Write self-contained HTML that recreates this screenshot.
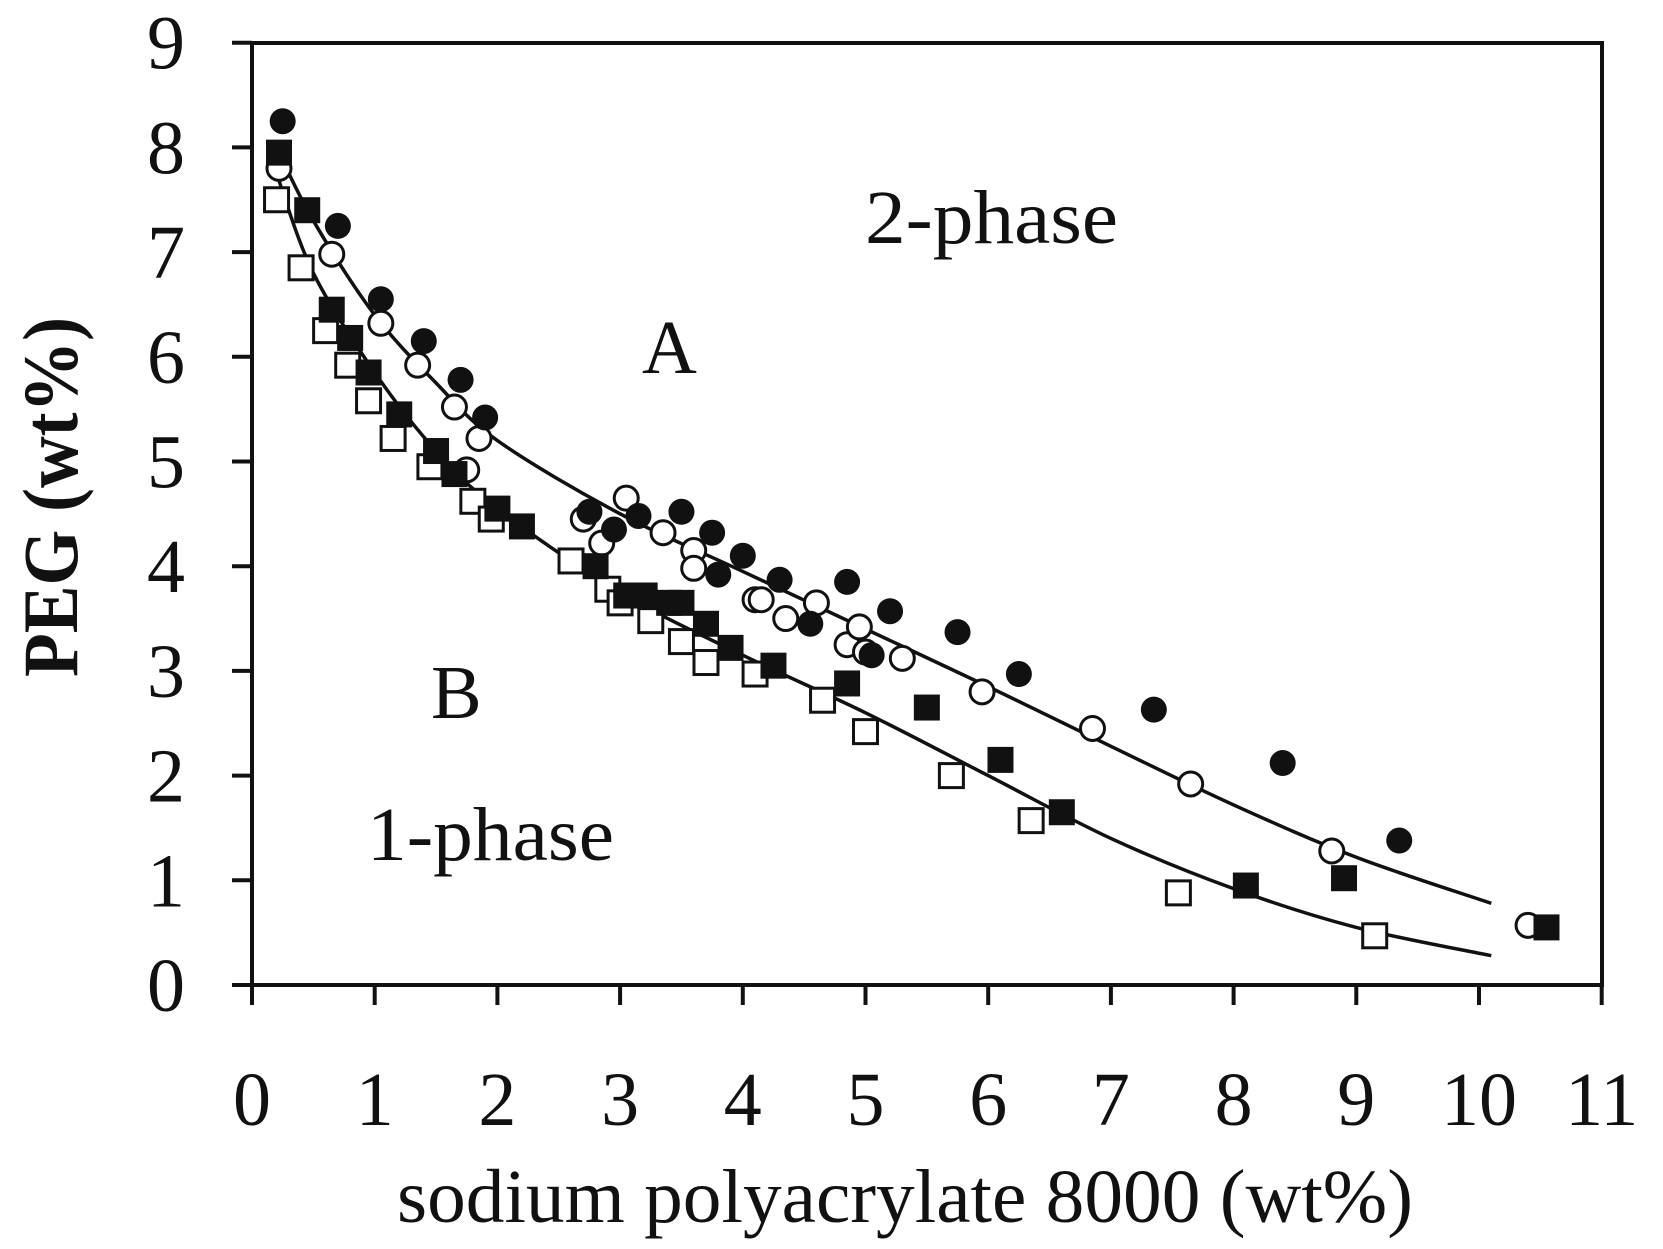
<!DOCTYPE html>
<html><head><meta charset="utf-8"><style>
html,body{margin:0;padding:0;background:#fff;}
svg{display:block;}
text{font-family:"Liberation Serif",serif;fill:#111;}
</style></head><body>
<svg width="1663" height="1249" viewBox="0 0 1663 1249" xmlns="http://www.w3.org/2000/svg">
<g id="plot"></g>
</svg>
<script>
(function(){
const NS="http://www.w3.org/2000/svg";
const g=document.getElementById("plot");
const X=x=>252+122.7*x, Y=y=>985-104.7*y;
function el(t,a,txt){const e=document.createElementNS(NS,t);for(const k in a)e.setAttribute(k,a[k]);if(txt!==undefined)e.textContent=txt;g.appendChild(e);return e;}
// frame
el("rect",{x:252,y:43,width:1350,height:942,fill:"none",stroke:"#111","stroke-width":4});
for(let i=0;i<=11;i++){el("line",{x1:X(i),y1:985,x2:X(i),y2:1005,stroke:"#111","stroke-width":4});
 el("text",{x:X(i),y:1125,"font-size":76,"text-anchor":"middle"},String(i));}
for(let j=0;j<=9;j++){el("line",{x1:232,y1:Y(j),x2:252,y2:Y(j),stroke:"#111","stroke-width":4});
 el("text",{x:166,y:Y(j)+26,"font-size":76,"text-anchor":"middle"},String(j));}
el("text",{x:397,y:1222,"font-size":76,textLength:1016,lengthAdjust:"spacingAndGlyphs"},"sodium polyacrylate 8000 (wt%)");
el("text",{x:0,y:0,"font-size":78,"font-weight":"bold",transform:"translate(77,677) rotate(-90)",textLength:360,lengthAdjust:"spacingAndGlyphs"},"PEG (wt%)");
el("text",{x:865,y:243,"font-size":76,textLength:253,lengthAdjust:"spacingAndGlyphs"},"2-phase");
el("text",{x:642,y:373,"font-size":76},"A");
el("text",{x:431,y:718,"font-size":76},"B");
el("text",{x:367,y:860,"font-size":76,textLength:247,lengthAdjust:"spacingAndGlyphs"},"1-phase");
// curves
function curve(pts){let d="M"+X(pts[0][0])+","+Y(pts[0][1]);
 for(let i=0;i<pts.length-1;i++){const p0=pts[i-1]||pts[i],p1=pts[i],p2=pts[i+1],p3=pts[i+2]||p2;
  const c1=[X(p1[0])+(X(p2[0])-X(p0[0]))/6,Y(p1[1])+(Y(p2[1])-Y(p0[1]))/6];
  const c2=[X(p2[0])-(X(p3[0])-X(p1[0]))/6,Y(p2[1])-(Y(p3[1])-Y(p1[1]))/6];
  d+=" C"+c1+" "+c2+" "+X(p2[0])+","+Y(p2[1]);}
 el("path",{d:d,fill:"none",stroke:"#111","stroke-width":3.5});}
curve([[0.2,8.0],[0.5,7.3],[1,6.4],[1.5,5.75],[2,5.2],[3,4.5],[4,3.95],[5,3.4],[6,2.85],[7,2.28],[8,1.72],[9,1.22],[10.1,0.78]]);
curve([[0.2,7.75],[0.5,6.8],[1,5.85],[1.5,5.1],[2,4.55],[3,3.75],[4,3.15],[5,2.6],[6,2.0],[7,1.4],[8,0.92],[9,0.55],[10.1,0.28]]);
const fc=[[0.25,8.25],[0.7,7.25],[1.05,6.55],[1.4,6.15],[1.7,5.78],[1.9,5.42],[2.75,4.52],[2.95,4.35],[3.15,4.48],[3.5,4.52],[3.75,4.32],[3.8,3.92],[4.0,4.1],[4.3,3.87],[4.55,3.45],[4.85,3.85],[5.05,3.15],[5.2,3.57],[5.75,3.37],[6.25,2.97],[7.35,2.63],[8.4,2.12],[9.35,1.38]];
const oc=[[0.22,7.8],[0.65,6.98],[1.05,6.32],[1.35,5.92],[1.65,5.52],[1.85,5.22],[1.75,4.92],[2.7,4.45],[2.85,4.22],[3.05,4.65],[3.35,4.32],[3.6,4.15],[3.6,3.98],[4.1,3.68],[4.15,3.68],[4.35,3.5],[4.6,3.65],[4.85,3.25],[4.95,3.42],[5.0,3.18],[5.3,3.12],[5.95,2.8],[6.85,2.45],[7.65,1.92],[8.8,1.28],[10.4,0.57]];
const fs=[[0.22,7.95],[0.45,7.4],[0.65,6.45],[0.8,6.18],[0.95,5.85],[1.2,5.45],[1.5,5.1],[1.65,4.88],[2.0,4.55],[2.2,4.38],[2.8,4.0],[3.05,3.72],[3.2,3.72],[3.4,3.65],[3.5,3.65],[3.7,3.45],[3.9,3.22],[4.25,3.05],[4.85,2.88],[5.5,2.65],[6.1,2.15],[6.6,1.65],[8.1,0.95],[8.9,1.02],[10.55,0.55]];
const os=[[0.2,7.5],[0.4,6.85],[0.6,6.25],[0.78,5.92],[0.95,5.58],[1.15,5.22],[1.45,4.95],[1.8,4.62],[1.95,4.45],[2.6,4.05],[2.9,3.78],[3.0,3.65],[3.25,3.48],[3.5,3.28],[3.7,3.08],[4.1,2.97],[4.65,2.72],[5.0,2.42],[5.7,2.0],[6.35,1.57],[7.55,0.88],[9.15,0.47]];
os.forEach(p=>el("rect",{x:X(p[0])-12,y:Y(p[1])-12,width:24,height:24,fill:"#fff",stroke:"#111","stroke-width":3}));
oc.forEach(p=>el("circle",{cx:X(p[0]),cy:Y(p[1]),r:12,fill:"#fff",stroke:"#111","stroke-width":3}));
fs.forEach(p=>el("rect",{x:X(p[0])-13,y:Y(p[1])-13,width:26,height:26,fill:"#111"}));
fc.forEach(p=>el("circle",{cx:X(p[0]),cy:Y(p[1]),r:13,fill:"#111"}));
})();
</script>
</body></html>
